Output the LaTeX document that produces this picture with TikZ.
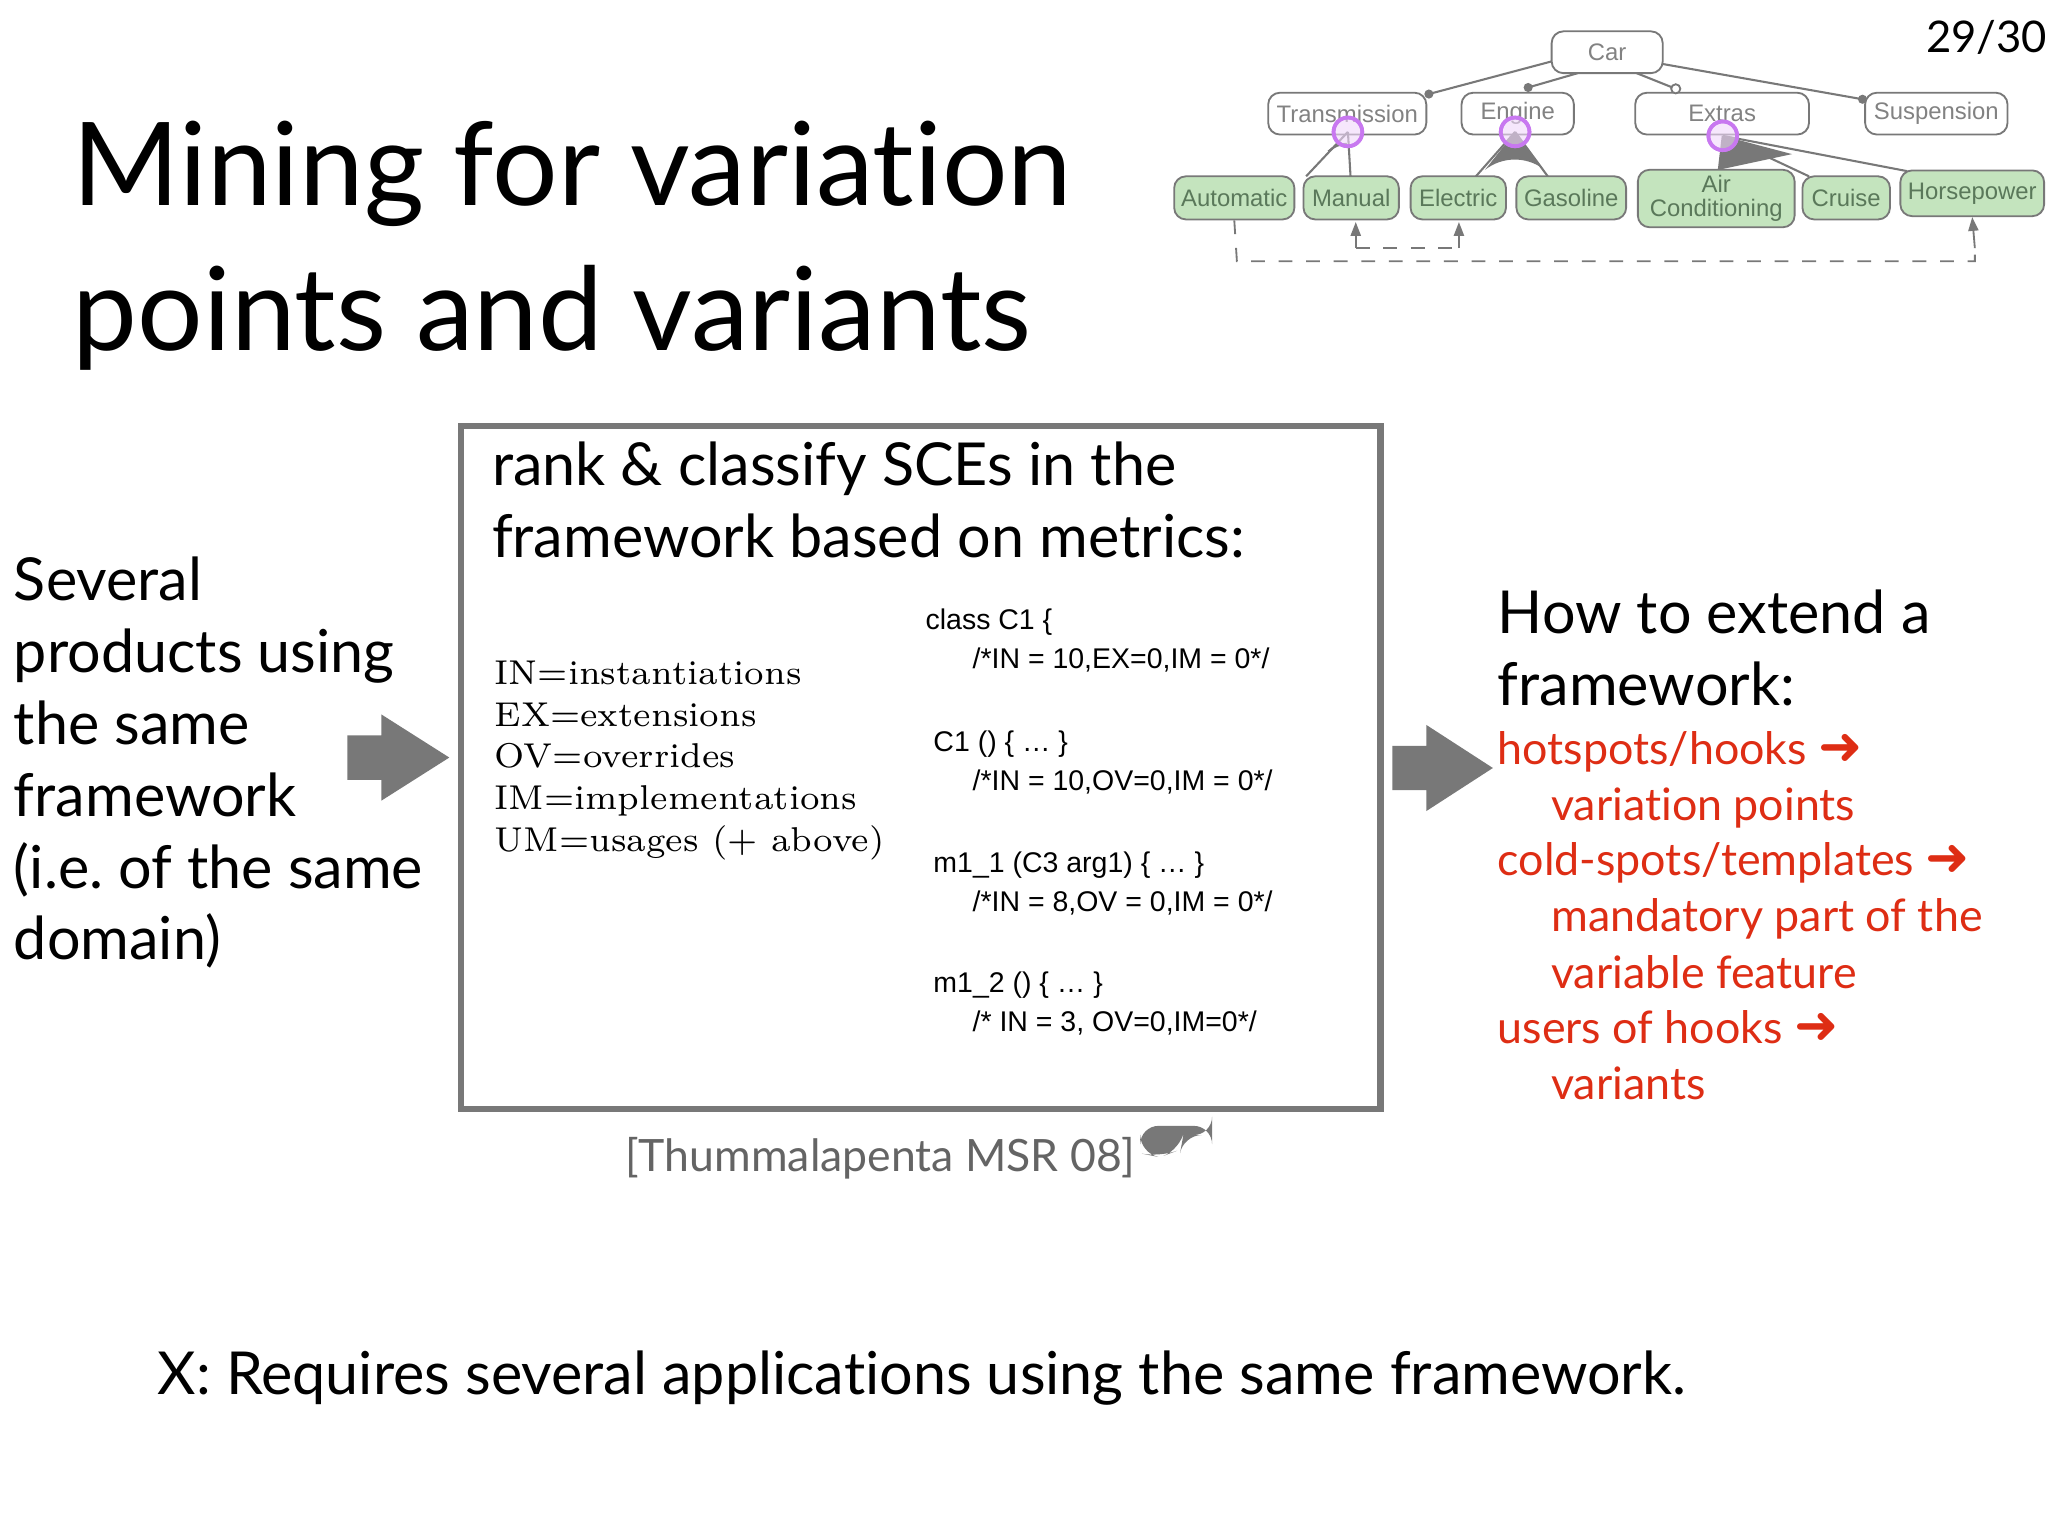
\documentclass[tikz,border=0pt]{standalone}
\usepackage{fontspec}
\setmainfont[Ligatures={NoCommon}]{Lato}
\newfontfamily\lm{Latin Modern Roman}
\newfontfamily\hv{Liberation Sans}
\newfontfamily\dv{DejaVu Sans}
\usetikzlibrary{arrows.meta}
\definecolor{myred}{RGB}{222,45,20}
\definecolor{fgreen}{RGB}{196,228,190}
\definecolor{fline}{RGB}{120,120,120}
\definecolor{ftext}{RGB}{130,130,130}
\newcommand{\fs}[1]{\fontsize{#1}{#1}\selectfont}
\newcommand{\rarr}{{\dv\bfseries\fontsize{11.5pt}{11.5pt}\selectfont ➜}}
\tikzset{
 lt/.style={anchor=base west,inner sep=0,font=\fs{12.9pt}},
 rt/.style={anchor=base west,inner sep=0,text=myred,font=\fs{9.75pt}},
 mt/.style={anchor=base west,inner sep=0,font=\lm\fs{7.5pt}},
 ct/.style={anchor=base west,inner sep=0,font=\hv\fs{6.2pt}},
 fw/.style={draw=fline,rounded corners=0.9mm,fill=white,text=ftext,font=\hv\fs{5.2pt},line width=0.4pt,inner sep=0,align=center,minimum height=0.32cm},
 fg/.style={fw,fill=fgreen,text={rgb,255:red,90;green,120;blue,90},minimum height=0.33cm},
 fl/.style={draw=fline,line width=0.45pt},
 fd/.style={draw=fline,dashed,line width=0.4pt},
 fa/.style={draw=fline,line width=0.4pt,-{Triangle[width=2.2pt,length=3pt]}},
 pc/.style={draw={rgb,255:red,200;green,120;blue,240},fill={rgb,255:red,240;green,215;blue,250},fill opacity=0.6,line width=0.8pt},
 blk/.style={fill={rgb,255:red,120;green,120;blue,120}}
}
\begin{document}
\begin{tikzpicture}[x=0.01cm,y=-0.01cm]
\useasboundingbox[fill=white] (0,0) rectangle (1568,1176);
% title
\node[anchor=base west,inner sep=0,font=\fs{25.2pt}] (t1) at (55,157) {Mining for variation};
\node[anchor=base west,inner sep=0,font=\fs{25.2pt}] (t2) at (55,268) {points and variants};
\node[anchor=base east,inner sep=0,font=\fs{9.5pt}] (pg) at (1568,40) {29/30};
% box
\draw[line width=1.4pt,draw={rgb,255:red,120;green,120;blue,120}] (353,326) rectangle (1057,849);
\node[lt] (b1) at (376,372) {rank \& classify SCEs in the};
\node[lt] (b2) at (376,427) {framework based on metrics:};
\node[mt] (m1) at (378,524) {IN=instantiations};
\node[mt] (m2) at (378,556) {EX=extensions};
\node[mt] (m3) at (378,588) {OV=overrides};
\node[mt] (m4) at (378,620) {IM=implementations};
\node[mt] (m5) at (378,652) {UM=usages (+ above)};
\node[ct] (c1) at (708,482) {class C1 \{};
\node[ct] (c2) at (744,512) {/*IN = 10,EX=0,IM = 0*/};
\node[ct] (c3) at (714,575) {C1 () \{ … \}};
\node[ct] (c4) at (744,605) {/*IN = 10,OV=0,IM = 0*/};
\node[ct] (c5) at (714,668) {m1\_1 (C3 arg1) \{ … \}};
\node[ct] (c6) at (744,698) {/*IN = 8,OV = 0,IM = 0*/};
\node[ct] (c7) at (714,760) {m1\_2 () \{ … \}};
\node[ct] (c8) at (744,790) {/* IN = 3, OV=0,IM=0*/};
% left text
\node[lt] (l1) at (10,460) {Several};
\node[lt] (l2) at (10,515) {products using};
\node[lt] (l3) at (10,570) {the same};
\node[lt] (l4) at (10,625) {framework};
\node[lt] (l5) at (10,680) {(i.e.\ of the same};
\node[lt] (l6) at (10,735) {domain)};
% block arrows
\fill[blk] (266,563) -- (292,563) -- (292,547) -- (344,580) -- (292,613) -- (292,597) -- (266,597) -- cycle;
\fill[blk] (1066,571) -- (1092,571) -- (1092,555) -- (1143,588) -- (1092,621) -- (1092,605) -- (1066,605) -- cycle;
% right text
\node[lt] (r1) at (1146,485) {How to extend a};
\node[lt] (r2) at (1146,540) {framework:};
\node[rt] (r3) at (1146,585) {hotspots/hooks \rarr};
\node[rt] (r4) at (1187,628) {variation points};
\node[rt] (r5) at (1146,670) {cold-spots/templates \rarr};
\node[rt] (r6) at (1187,713) {mandatory part of the};
\node[rt] (r7) at (1187,757) {variable feature};
\node[rt] (r8) at (1146,799) {users of hooks \rarr};
\node[rt] (r9) at (1187,842) {variants};
% citation
\node[anchor=base west,inner sep=0,text={rgb,255:red,100;green,100;blue,100},font=\fs{9.7pt}] (cit) at (478,897) {[Thummalapenta MSR 08]};
\fill[blk,rounded corners=4pt] (873,862) -- (928,862) -- (928,869) -- (906,869) -- (904,880) -- (888,886) -- (873,883) -- cycle;
% bottom
\node[lt] (x) at (120,1068) {X: Requires several applications using the same framework.};
% feature diagram
\node[fw,minimum width=0.85cm] (car) at (1230.5,40) {Car};
\node[fw,minimum width=1.21cm] (tr) at (1031.5,87) {Transmission};
\node[fw,minimum width=0.86cm] (en) at (1162,87) {Engine};
\node[fw,minimum width=1.33cm] (ex) at (1318.5,87) {Extras};
\node[fw,minimum width=1.09cm] (su) at (1482.5,87) {Suspension};
\node[fg,minimum width=0.92cm] (au) at (945,151.5) {Automatic};
\node[fg,minimum width=0.73cm] (ma) at (1034.5,151.5) {Manual};
\node[fg,minimum width=0.73cm] (el) at (1116.5,151.5) {Electric};
\node[fg,minimum width=0.84cm] (ga) at (1203,151.5) {Gasoline};
\node[fg,minimum width=1.2cm,minimum height=0.44cm] (ac) at (1314,152) {Air\\Conditioning};
\node[fg,minimum width=0.67cm] (cr) at (1413.5,151.5) {Cruise};
\node[fg,minimum width=1.1cm,minimum height=0.35cm] (hp) at (1510,148) {Horsepower};
% car edges
\coordinate (d1) at (1094,72); \coordinate (d2) at (1170,67);
\coordinate (d3) at (1283,68); \coordinate (d4) at (1426,76);
\draw[fl] (1188,47) -- (d1); \fill[fline] (d1) circle (3.5);
\draw[fl] (1208,56) -- (d2); \fill[fline] (d2) circle (3.5);
\draw[fl] (1253,56) -- (d3); \draw[fline,fill=white,line width=0.4pt] (d3) circle (3.5);
\draw[fl] (1273,49) -- (d4); \fill[fline] (d4) circle (3.5);
% transmission alternative
\coordinate (tp) at (1032,101);
\draw[fl] (tp) -- (1000,135); \draw[fl] (tp) -- (1034,135);
\draw[fl] (1017,116) arc[start angle=225,end angle=270,radius=20];
% engine or
\coordinate (ep) at (1160,101);
\fill[fline] (ep) -- (1137,130) arc[start angle=232,end angle=306,radius=37] -- cycle;
\draw[fl] (ep) -- (1130,135); \draw[fl] (ep) -- (1185,135);
% extras or
\coordinate (xp) at (1319,104);
\fill[fline] (xp) -- (1316,130) -- (1372,118) -- cycle;
\draw[fl] (xp) -- (1316,130); \draw[fl] (xp) -- (1385,135); \draw[fl] (xp) -- (1460,131);
\fill[pc] (tp) circle (11); \fill[pc] (ep) circle (11); \fill[pc] (xp) circle (11);
\draw[pc,fill=none] (tp) circle (11); \draw[pc,fill=none] (ep) circle (11); \draw[pc,fill=none] (xp) circle (11);
% constraints
\draw[fd] (au.south) -- (947,200) -- (1512,200) -- (1512,190);
\draw[fa] (1512,190) -- (hp.south);
\draw[fd] (1038,190) -- (1117,190);
\draw[fa] (1038,190) -- (1038,170);
\draw[fa] (1117,190) -- (1117,170);
\end{tikzpicture}
\end{document}
